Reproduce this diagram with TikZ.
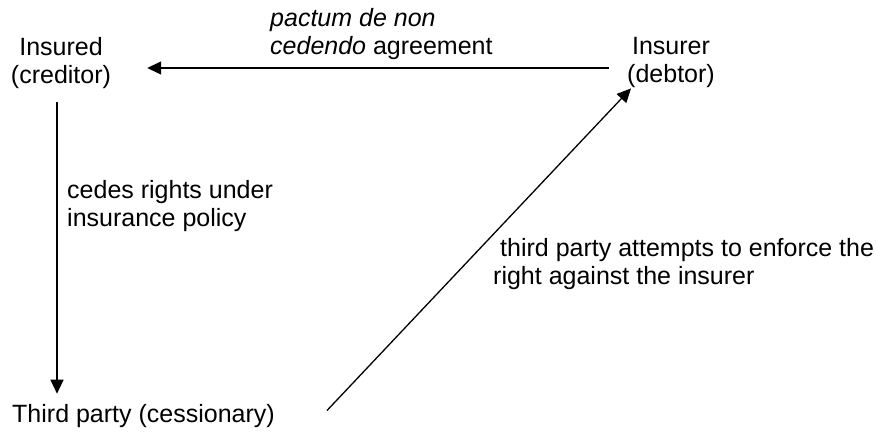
\documentclass[tikz,border=0pt]{standalone}
\usepackage{fontspec}
\setmainfont{Liberation Sans}
\usetikzlibrary{arrows.meta}
\begin{document}
\begin{tikzpicture}[x=1pt,y=1pt,
  txt/.style={inner sep=0pt, font=\fontsize{25}{28.5}\selectfont},
  party/.style={txt, align=center, anchor=base},
  lbl/.style={txt, align=left, anchor=base west},
  arr/.style={line width=1.3pt, -{Triangle[length=14pt,width=13pt]}}]
  \useasboundingbox (0,0) rectangle (876,-438);

  % the three parties (base = baseline of the last line)
  \node[party] (ins)  at (61,-84)  {Insured\\(creditor)};
  \node[party] (insr) at (671,-83) {Insurer\\(debtor)};
  \node[txt, anchor=base west] (third) at (12,-422) {Third party (cessionary)};

  % connector labels
  \node[lbl] (pact) at (270,-55) {\textit{pactum de non}\\\textit{cedendo} agreement};
  \node[lbl] (cede) at (67,-227) {cedes rights under\\insurance policy};
  \node[lbl] (enf)  at (493,-285) {\hspace{7pt}third party attempts to enforce the\\right against the insurer};

  % relations between the parties
  \draw[arr] ([xshift=-18pt]insr.west |- 0,-68) -- ([xshift=36pt]ins.east |- 0,-68);
  \draw[arr] ([yshift=-13pt]ins.south -| 57,0) -- ([yshift=10pt]third.north -| 57,0);
  \draw[arr] ([xshift=52pt,yshift=5pt]third.east) -- ([xshift=4pt]insr.south west);
\end{tikzpicture}
\end{document}
